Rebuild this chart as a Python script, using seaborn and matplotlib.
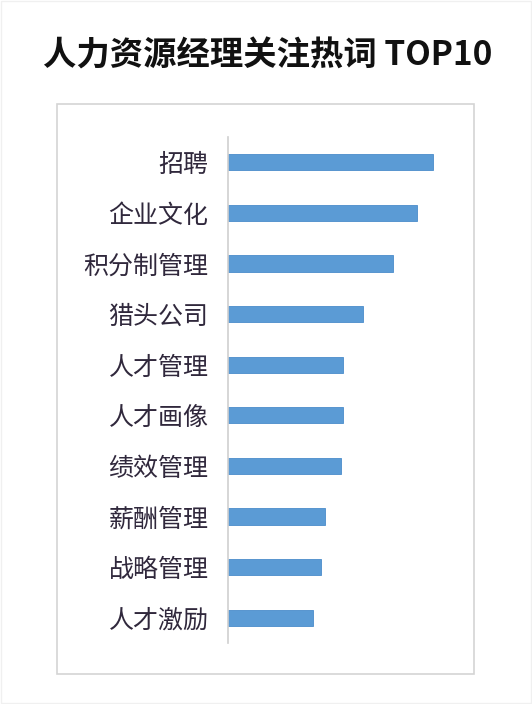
import matplotlib
matplotlib.use("Agg")
import matplotlib.pyplot as plt
from matplotlib.patches import Rectangle
import seaborn as sns
import pandas as pd

# hot words and their (relative) bar lengths
words = ["招聘", "企业文化", "积分制管理", "猎头公司", "人才管理",
         "人才画像", "绩效管理", "薪酬管理", "战略管理", "人才激励"]
scores = [205, 189, 165, 135, 115, 115, 113, 97, 93, 85]

df = pd.DataFrame({"word": words, "score": scores})

sns.set_theme(style="white")
plt.rcParams["font.family"] = ["Noto Sans CJK SC", "DejaVu Sans"]

W, H = 532, 704
fig = plt.figure(figsize=(W / 100, H / 100), dpi=100)
fig.patch.set_facecolor("white")

# axes placed so the value axis starts at x=228 px, rows span y=137..643 px
ax = fig.add_axes([228 / W, (H - 643) / H, (460 - 228) / W, (643 - 137) / H])
sns.barplot(data=df, x="score", y="word", orient="h", color="#5b9bd5",
            saturation=1, width=0.32, edgecolor="#4a8ccb", linewidth=0.6, ax=ax)

ax.set_xlim(0, 232)
ax.set_ylim(9.5, -0.5)
ax.set_xlabel("")
ax.set_ylabel("")
ax.set_xticks([])
for s in ["top", "right", "bottom"]:
    ax.spines[s].set_visible(False)
ax.spines["left"].set_color("#cfcfcf")
ax.spines["left"].set_linewidth(1.2)
ax.tick_params(axis="y", length=0, pad=14, labelsize=18, labelcolor="#30283c")
for lab in ax.get_yticklabels():
    lab.set_fontweight("light")

# chart area border and faint outer frame
fig.patches.append(Rectangle((57 / W, (H - 674) / H), (474 - 57) / W, (674 - 104) / H,
                             transform=fig.transFigure, fill=False,
                             edgecolor="#d4d4d4", linewidth=1.2))
fig.patches.append(Rectangle((1 / W, 1 / H), (W - 2) / W, (H - 2) / H,
                             transform=fig.transFigure, fill=False,
                             edgecolor="#f0f0f0", linewidth=1))

fig.text(268 / W, (H - 56) / H, "人力资源经理关注热词 TOP10", ha="center", va="center",
         fontsize=24, fontweight="bold", color="#111111")

fig.savefig("out.png", dpi=100)
